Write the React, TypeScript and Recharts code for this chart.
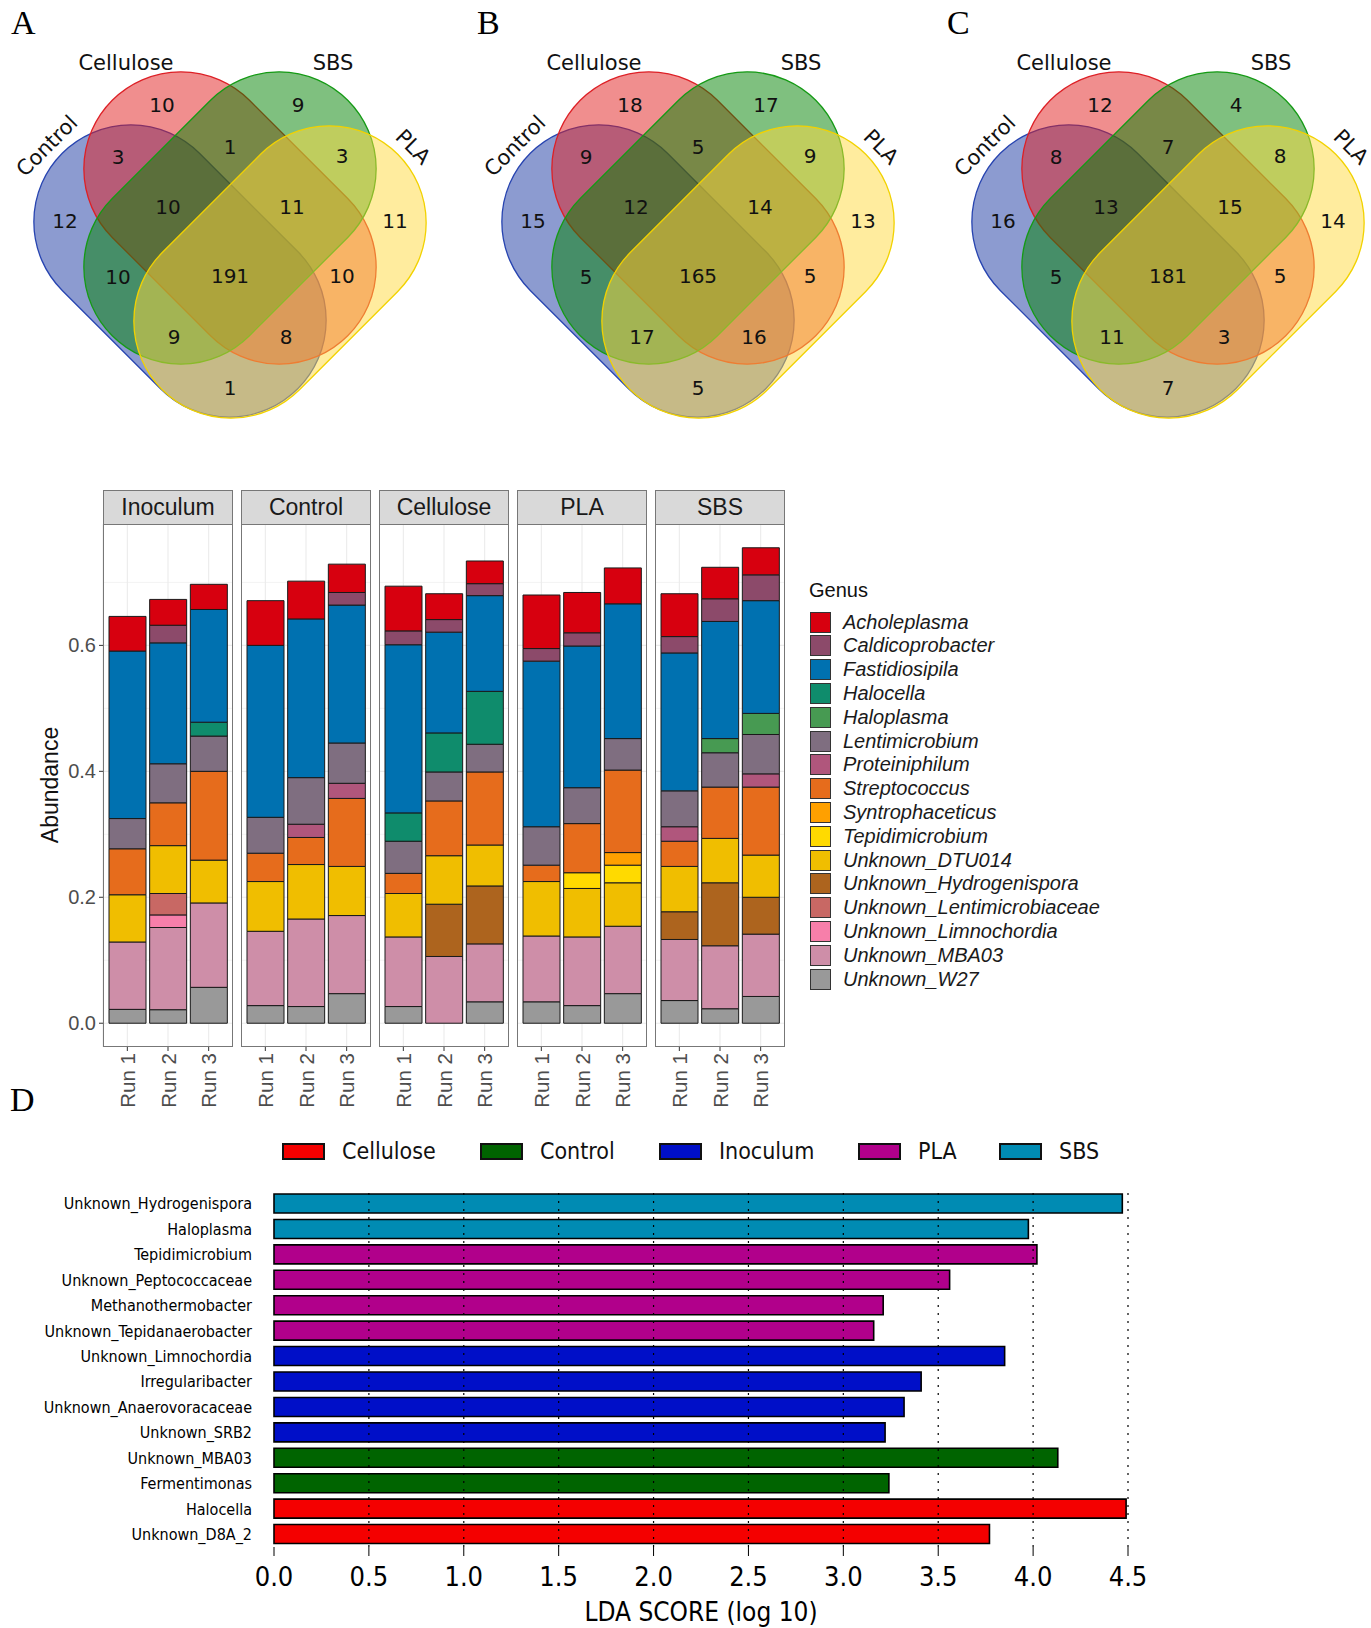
import React from 'react';
import {
  BarChart, Bar, XAxis, YAxis, CartesianGrid, ScatterChart, Scatter, ReferenceLine, Cell,
} from 'recharts';

// ---------------- Venn diagrams (A, B, C) ----------------
const vennSets = ['Control', 'Cellulose', 'SBS', 'PLA'];
const vennRegions = [
  'Cellulose', 'SBS', 'Control&Cellulose', 'Cellulose&SBS', 'SBS&PLA', 'Control',
  'Control&Cellulose&SBS', 'Cellulose&SBS&PLA', 'PLA', 'Control&SBS', 'All',
  'Cellulose&PLA', 'Control&SBS&PLA', 'Control&Cellulose&PLA', 'Control&PLA',
];
const vennA = [10, 9, 3, 1, 3, 12, 10, 11, 11, 10, 191, 10, 9, 8, 1];
const vennB = [18, 17, 9, 5, 9, 15, 12, 14, 13, 5, 165, 5, 17, 16, 5];
const vennC = [12, 4, 8, 7, 8, 16, 13, 15, 14, 5, 181, 5, 11, 3, 7];
const vennPanels = ['A', 'B', 'C'];

// ---------------- Genus abundance (stacked bars) ----------------
const groups = ['Inoculum', 'Control', 'Cellulose', 'PLA', 'SBS'];
const runs = ['Run 1', 'Run 2', 'Run 3'];
const genera = [
  'Acholeplasma', 'Caldicoprobacter', 'Fastidiosipila', 'Halocella', 'Haloplasma',
  'Lentimicrobium', 'Proteiniphilum', 'Streptococcus', 'Syntrophaceticus', 'Tepidimicrobium',
  'Unknown_DTU014', 'Unknown_Hydrogenispora', 'Unknown_Lentimicrobiaceae',
  'Unknown_Limnochordia', 'Unknown_MBA03', 'Unknown_W27',
];
// 15 values each: Inoculum R1-3, Control R1-3, Cellulose R1-3, PLA R1-3, SBS R1-3
const acholeplasma = [0.055, 0.041, 0.040, 0.071, 0.060, 0.045, 0.071, 0.041, 0.036, 0.085, 0.064, 0.057, 0.068, 0.050, 0.043];
const caldicoprobacter = [0, 0.028, 0, 0, 0, 0.020, 0.022, 0.020, 0.019, 0.020, 0.021, 0, 0.026, 0.036, 0.041];
const fastidiosipila = [0.266, 0.192, 0.179, 0.273, 0.252, 0.219, 0.267, 0.160, 0.152, 0.263, 0.225, 0.214, 0.219, 0.186, 0.179];
const halocella = [0, 0, 0.022, 0, 0, 0, 0.045, 0.062, 0.084, 0, 0, 0, 0, 0, 0];
const haloplasma = [0, 0, 0, 0, 0, 0, 0, 0, 0, 0, 0, 0, 0, 0.0225, 0.0335];
const lentimicrobium = [0.048, 0.062, 0.056, 0.057, 0.074, 0.064, 0.051, 0.046, 0.044, 0.061, 0.057, 0.050, 0.057, 0.0545, 0.0625];
const proteiniphilum = [0, 0, 0, 0, 0.021, 0.024, 0, 0, 0, 0, 0, 0, 0.023, 0, 0.021];
const streptococcus = [0.073, 0.068, 0.141, 0.045, 0.043, 0.108, 0.032, 0.087, 0.116, 0.026, 0.078, 0.131, 0.040, 0.0815, 0.108];
const syntrophaceticus = [0, 0, 0, 0, 0, 0, 0, 0, 0, 0, 0, 0.020, 0, 0, 0];
const tepidimicrobium = [0, 0, 0, 0, 0, 0, 0, 0, 0, 0, 0.025, 0.028, 0, 0, 0];
const unknownDTU014 = [0.075, 0.076, 0.068, 0.079, 0.0865, 0.078, 0.069, 0.077, 0.065, 0.0865, 0.077, 0.069, 0.072, 0.0705, 0.067];
const unknownHydrogenispora = [0, 0, 0, 0, 0, 0, 0, 0.083, 0.092, 0, 0, 0, 0.044, 0.100, 0.0585];
const unknownLentimicrobiaceae = [0, 0.034, 0, 0, 0, 0, 0, 0, 0, 0, 0, 0, 0, 0, 0];
const unknownLimnochordia = [0, 0.020, 0, 0, 0, 0, 0, 0, 0, 0, 0, 0, 0, 0, 0];
const unknownMBA03 = [0.107, 0.1305, 0.134, 0.118, 0.139, 0.124, 0.1105, 0.106, 0.092, 0.1045, 0.109, 0.107, 0.097, 0.100, 0.099];
const unknownW27 = [0.022, 0.0215, 0.057, 0.028, 0.0265, 0.047, 0.0265, 0, 0.034, 0.034, 0.028, 0.047, 0.036, 0.023, 0.0425];
const genusValues = [
  acholeplasma, caldicoprobacter, fastidiosipila, halocella, haloplasma, lentimicrobium,
  proteiniphilum, streptococcus, syntrophaceticus, tepidimicrobium, unknownDTU014,
  unknownHydrogenispora, unknownLentimicrobiaceae, unknownLimnochordia, unknownMBA03, unknownW27,
];
const genusColors = [
  '#d7000f', '#8c4a6a', '#0071b0', '#0f8c6c', '#479a52', '#7f6e80', '#b0567c', '#e66c1c',
  '#ffa000', '#ffda00', '#f0be00', '#ad641e', '#c86864', '#f77faa', '#ce8ea8', '#999999',
];
const abundanceTicks = [0, 0.2, 0.4, 0.6];
const abundanceMinor = [0.1, 0.3, 0.5, 0.7];

// ---------------- LDA scores ----------------
const ldaFeatures = [
  'Unknown_Hydrogenispora', 'Haloplasma', 'Tepidimicrobium', 'Unknown_Peptococcaceae',
  'Methanothermobacter', 'Unknown_Tepidanaerobacter', 'Unknown_Limnochordia', 'Irregularibacter',
  'Unknown_Anaerovoracaceae', 'Unknown_SRB2', 'Unknown_MBA03', 'Fermentimonas', 'Halocella', 'Unknown_D8A_2',
];
const ldaScores = [4.47, 3.975, 4.02, 3.56, 3.21, 3.16, 3.85, 3.41, 3.32, 3.22, 4.13, 3.24, 4.49, 3.77];
const ldaGroup = [
  'SBS', 'SBS', 'PLA', 'PLA', 'PLA', 'PLA', 'Inoculum', 'Inoculum', 'Inoculum', 'Inoculum',
  'Control', 'Control', 'Cellulose', 'Cellulose',
];
const ldaClasses = ['Cellulose', 'Control', 'Inoculum', 'PLA', 'SBS'];
const ldaTicks = [0, 0.5, 1, 1.5, 2, 2.5, 3, 3.5, 4, 4.5];

// ---------------- layout / styles ----------------
const SANS = '"Liberation Sans", Arial, sans-serif';
const DEJAVU = '"DejaVu Sans", sans-serif';
const COND = '"DejaVu Sans Condensed", "DejaVu Sans", sans-serif';
const SERIF = '"Liberation Serif", "Times New Roman", serif';

const VENN_AXES = [230, 698, 1168];
const CAPSULE = { len: 139, r: 97 };
const SET_SHAPES: Record<string, { dx: number; y: number; angle: number; fill: string; stroke: string }> = {
  Control: { dx: -50, y: 271, angle: 45, fill: '#1937a1', stroke: '#2744b0' },
  Cellulose: { dx: 0, y: 218, angle: 45, fill: '#e11d1d', stroke: '#dd2026' },
  SBS: { dx: 0, y: 218, angle: -45, fill: '#008100', stroke: '#159a15' },
  PLA: { dx: 50, y: 272, angle: -45, fill: '#ffd93d', stroke: '#f2d200' },
};
const SET_LABELS: Record<string, { dx: number; y: number; rot: number }> = {
  Control: { dx: -183, y: 146, rot: -45 },
  Cellulose: { dx: -104, y: 63, rot: 0 },
  SBS: { dx: 103, y: 63, rot: 0 },
  PLA: { dx: 183, y: 147, rot: 45 },
};
const REGION_POS: Record<string, [number, number]> = {
  Cellulose: [-68, 105], SBS: [68, 105], 'Control&Cellulose': [-112, 157], 'Cellulose&SBS': [0, 147],
  'SBS&PLA': [112, 156], Control: [-165, 221], 'Control&Cellulose&SBS': [-62, 207],
  'Cellulose&SBS&PLA': [62, 207], PLA: [165, 221], 'Control&SBS': [-112, 277], All: [0, 276],
  'Cellulose&PLA': [112, 276], 'Control&SBS&PLA': [-56, 337], 'Control&Cellulose&PLA': [56, 337],
  'Control&PLA': [0, 388],
};
const LDA_COLORS: Record<string, string> = {
  Cellulose: '#f40000', Control: '#006400', Inoculum: '#000fc8', PLA: '#b1008b', SBS: '#008bb3',
};
const LDA_LEGEND_X = [282, 480, 659, 858, 999];

const PANEL_LEFT0 = 103;
const PANEL_PITCH = 138;
const PANEL_W = 130;
const PLOT_TOP = 524;
const PLOT_H = 523;

// ---------------- derived data ----------------
const capsuleData = VENN_AXES.flatMap((ax) =>
  vennSets.map((s) => ({ x: ax + SET_SHAPES[s].dx, y: SET_SHAPES[s].y, set: s })),
);
const countData = [vennA, vennB, vennC].flatMap((counts, d) =>
  vennRegions.map((r, i) => ({ x: VENN_AXES[d] + REGION_POS[r][0], y: REGION_POS[r][1], label: counts[i] })),
);
const setLabelData = VENN_AXES.flatMap((ax) =>
  vennSets.map((s) => ({ x: ax + SET_LABELS[s].dx, y: SET_LABELS[s].y, label: s, rot: SET_LABELS[s].rot })),
);

const totals = runs.flatMap((_, r) => groups.map((__, g) => genusValues.reduce((a, v) => a + v[g * 3 + r], 0)));
const maxTotal = Math.max(...totals);
const yDomain: [number, number] = [-0.05 * maxTotal, 1.05 * maxTotal];

const ldaData = ldaFeatures.map((name, i) => ({ name, score: ldaScores[i], group: ldaGroup[i] }));

// ---------------- shapes ----------------
const CapsuleShape = (props: any) => {
  const { cx, cy, payload } = props;
  const s = SET_SHAPES[payload.set];
  const w = CAPSULE.len + 2 * CAPSULE.r;
  const h = 2 * CAPSULE.r;
  return (
    <rect
      x={cx - w / 2} y={cy - h / 2} width={w} height={h} rx={CAPSULE.r} ry={CAPSULE.r}
      transform={`rotate(${s.angle} ${cx} ${cy})`}
      fill={s.fill} fillOpacity={0.5} stroke={s.stroke} strokeWidth={1.3}
    />
  );
};

const CountShape = (props: any) => {
  const { cx, cy, payload } = props;
  return (
    <text x={cx} y={cy} textAnchor="middle" dominantBaseline="central" fontSize={20} fontFamily={DEJAVU} fill="#111">
      {payload.label}
    </text>
  );
};

const SetLabelShape = (props: any) => {
  const { cx, cy, payload } = props;
  return (
    <text
      x={cx} y={cy} textAnchor="middle" dominantBaseline="central" fontSize={21} fontFamily={DEJAVU} fill="#111"
      transform={`rotate(${payload.rot} ${cx} ${cy})`}
    >
      {payload.label}
    </text>
  );
};

const RunTick = (props: any) => {
  const { x, y, payload } = props;
  return (
    <text
      x={x} y={y} transform={`rotate(-90 ${x} ${y})`} textAnchor="end" dominantBaseline="central"
      fill="#4d4d4d" fontSize={20.5} fontFamily={SANS}
    >
      {payload.value}
    </text>
  );
};

function GenusPanel({ group, index }: { group: string; index: number }) {
  const data = runs.map((run, r) => {
    const row: Record<string, any> = { run };
    genera.forEach((g, k) => {
      row[g] = genusValues[k][index * 3 + r];
    });
    return row;
  });
  const first = index === 0;
  const yW = first ? 50 : 0;
  const left = PANEL_LEFT0 + index * PANEL_PITCH;
  const stackOrder = genera.map((g, k) => ({ g, k })).reverse();
  return (
    <>
      <div
        style={{
          position: 'absolute', left, top: 490, width: PANEL_W, height: 35, boxSizing: 'border-box',
          background: '#d9d9d9', border: '1px solid #777', display: 'flex', alignItems: 'center',
          justifyContent: 'center', fontFamily: SANS, fontSize: 23, color: '#1a1a1a',
        }}
      >
        {group}
      </div>
      <div style={{ position: 'absolute', left: left - yW, top: PLOT_TOP }}>
        <BarChart
          width={PANEL_W + yW} height={PLOT_H + 75} data={data}
          margin={{ top: 0, right: 0, bottom: 0, left: 0 }} barSize={37}
        >
          <CartesianGrid horizontalValues={abundanceMinor} vertical={false} stroke="#ebebeb" strokeWidth={0.6} />
          <CartesianGrid horizontalValues={abundanceTicks} stroke="#ebebeb" strokeWidth={1.1} />
          <XAxis
            dataKey="run" interval={0} padding={{ left: 4, right: 4 }} height={75} tickSize={4}
            tickLine={{ stroke: '#333' }} axisLine={false} tick={<RunTick />}
          />
          <YAxis
            type="number" domain={yDomain} ticks={abundanceTicks} hide={!first} width={yW}
            tickFormatter={(v: number) => v.toFixed(1)} tickSize={4} tickMargin={3}
            tickLine={{ stroke: '#333' }} axisLine={false} allowDataOverflow
            tick={{ fill: '#4d4d4d', fontSize: 20, fontFamily: SANS }}
          />
          {stackOrder.map(({ g, k }) => (
            <Bar
              key={g} dataKey={g} stackId="a" fill={genusColors[k]} stroke="#1a1a1a" strokeWidth={1}
              isAnimationActive={false}
            />
          ))}
        </BarChart>
      </div>
      <div
        style={{
          position: 'absolute', left, top: PLOT_TOP, width: PANEL_W, height: PLOT_H,
          border: '1px solid #777', boxSizing: 'border-box', pointerEvents: 'none',
        }}
      />
    </>
  );
}

export default function App() {
  return (
    <div style={{ position: 'relative', width: 1371, height: 1628, background: '#fff', overflow: 'hidden' }}>
      <style>{'body{margin:0;}'}</style>

      {/* panel letters */}
      {vennPanels.map((p, i) => (
        <div
          key={p}
          style={{
            position: 'absolute', left: [11, 477, 947][i], top: 4, fontFamily: SERIF, fontSize: 34, color: '#000',
          }}
        >
          {p}
        </div>
      ))}
      <div style={{ position: 'absolute', left: 10, top: 1081, fontFamily: SERIF, fontSize: 34, color: '#000' }}>D</div>

      {/* Venn diagrams */}
      <div style={{ position: 'absolute', left: 0, top: 0 }}>
        <ScatterChart width={1371} height={430} margin={{ top: 0, right: 0, bottom: 0, left: 0 }}>
          <XAxis type="number" dataKey="x" domain={[0, 1371]} hide />
          <YAxis type="number" dataKey="y" domain={[0, 430]} reversed hide />
          <Scatter data={capsuleData} shape={CapsuleShape} isAnimationActive={false} />
          <Scatter data={countData} shape={CountShape} isAnimationActive={false} />
          <Scatter data={setLabelData} shape={SetLabelShape} isAnimationActive={false} />
        </ScatterChart>
      </div>

      {/* Genus stacked bars */}
      <div
        style={{
          position: 'absolute', left: 50, top: 785, transform: 'translate(-50%, -50%) rotate(-90deg)',
          fontFamily: SANS, fontSize: 23, color: '#111', whiteSpace: 'nowrap',
        }}
      >
        Abundance
      </div>
      {groups.map((g, i) => (
        <GenusPanel key={g} group={g} index={i} />
      ))}
      <div style={{ position: 'absolute', left: 809, top: 579, fontFamily: SANS, fontSize: 20, color: '#111' }}>Genus</div>
      {genera.map((g, k) => (
        <div
          key={g}
          style={{
            position: 'absolute', left: 810, top: 622 + k * 23.8 - 11.5, height: 23, display: 'flex',
            alignItems: 'center', fontFamily: SANS, fontSize: 20, fontStyle: 'italic', color: '#1a1a1a',
            whiteSpace: 'nowrap',
          }}
        >
          <span
            style={{
              display: 'inline-block', width: 21, height: 21, boxSizing: 'border-box', background: genusColors[k],
              border: '1px solid #333', marginRight: 12,
            }}
          />
          {g}
        </div>
      ))}

      {/* LDA legend */}
      {ldaClasses.map((c, i) => (
        <div
          key={c}
          style={{
            position: 'absolute', left: LDA_LEGEND_X[i], top: 1137, height: 28, display: 'flex', alignItems: 'center',
            fontFamily: COND, fontSize: 23, color: '#111', whiteSpace: 'nowrap',
          }}
        >
          <span
            style={{
              display: 'inline-block', width: 43, height: 17, boxSizing: 'border-box', background: LDA_COLORS[c],
              border: '2px solid #111', marginRight: 17,
            }}
          />
          {c}
        </div>
      ))}

      {/* LDA bar chart */}
      <div style={{ position: 'absolute', left: 0, top: 1170 }}>
        <BarChart
          width={1371} height={458} data={ldaData} layout="vertical"
          margin={{ top: 0, right: 243, bottom: 0, left: 0 }} barSize={19}
        >
          <XAxis
            xAxisId="bottom" type="number" domain={[0, 4.5]} ticks={ldaTicks} orientation="bottom" height={81}
            tickSize={9} tickMargin={11} axisLine={false} tickLine={{ stroke: '#000' }}
            tickFormatter={(v: number) => v.toFixed(1)}
            tick={{ fill: '#000', fontSize: 27, fontFamily: COND }}
            label={{ value: 'LDA SCORE (log 10)', position: 'insideBottom', offset: 7, fill: '#000', fontSize: 26, fontFamily: COND }}
          />
          <XAxis
            xAxisId="top" type="number" domain={[0, 4.5]} ticks={ldaTicks} orientation="top" height={21}
            tickSize={10} axisLine={false} tickLine={{ stroke: '#000' }} tick={false}
          />
          <YAxis
            type="category" dataKey="name" width={274} tickLine={false} axisLine={false} tickSize={0} tickMargin={22}
            interval={0} tick={{ fill: '#000', fontSize: 16, fontFamily: COND }}
          />
          <Bar xAxisId="bottom" dataKey="score" stroke="#000" strokeWidth={1.6} isAnimationActive={false}>
            {ldaData.map((d) => (
              <Cell key={d.name} fill={LDA_COLORS[d.group]} />
            ))}
          </Bar>
          {ldaTicks.slice(1).map((v) => (
            <ReferenceLine key={v} xAxisId="bottom" x={v} stroke="#000" strokeWidth={1.2} strokeDasharray="2 6" />
          ))}
        </BarChart>
      </div>
    </div>
  );
}
